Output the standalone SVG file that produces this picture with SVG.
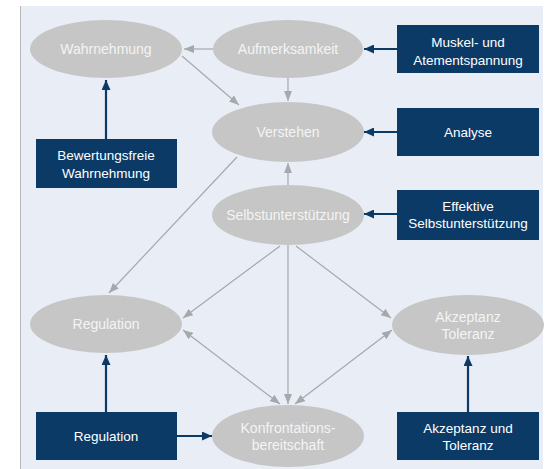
<svg xmlns="http://www.w3.org/2000/svg" width="554" height="469" viewBox="0 0 554 469">
<defs>
<style>
.ell{fill:#c6c6c6}
.et{fill:#f4f4f4;font-family:"Liberation Sans",Arial,sans-serif;font-size:14px;text-anchor:middle;dominant-baseline:central}
.box{fill:#0c3a67}
.bt{fill:#ffffff;font-family:"Liberation Sans",Arial,sans-serif;font-size:13.5px;text-anchor:middle;dominant-baseline:central}
.g{stroke:#a6a8ab;stroke-width:1.2;fill:none;marker-end:url(#ag)}
.gg{stroke:#a6a8ab;stroke-width:1.2;fill:none;marker-end:url(#ag);marker-start:url(#ag)}
.n{stroke:#0c3a67;stroke-width:2.2;fill:none;marker-end:url(#an)}
</style>
<marker id="ag" markerUnits="userSpaceOnUse" markerWidth="10" markerHeight="8" refX="10" refY="4" orient="auto-start-reverse" viewBox="0 0 10 8">
<path d="M0,0 L10,4 L0,8 z" fill="#a6a8ab"/>
</marker>
<marker id="an" markerUnits="userSpaceOnUse" markerWidth="10" markerHeight="9" refX="10" refY="4.5" orient="auto" viewBox="0 0 10 9">
<path d="M0,0 L10,4.5 L0,9 z" fill="#0c3a67"/>
</marker>
</defs>
<rect x="0" y="0" width="554" height="469" fill="#ffffff"/>
<rect x="21" y="6" width="522" height="463" fill="#e9eef6"/>
<line x1="20.5" y1="6" x2="20.5" y2="469" stroke="#b5b7ba" stroke-width="1"/>

<g id="connectors">
<line class="g" x1="213" y1="49" x2="184" y2="49"/>
<line class="g" x1="182" y1="56" x2="239" y2="105"/>
<line class="g" x1="288" y1="78" x2="288" y2="101"/>
<line class="g" x1="288" y1="185" x2="288" y2="163"/>
<line class="g" x1="237" y1="157" x2="109" y2="293"/>
<line class="g" x1="280" y1="246" x2="183" y2="318"/>
<line class="g" x1="288" y1="245" x2="288" y2="404"/>
<line class="g" x1="296" y1="246" x2="391" y2="318"/>
<line class="gg" x1="183" y1="330" x2="280" y2="404"/>
<line class="gg" x1="392" y1="330" x2="295" y2="404"/>
<line class="n" x1="397" y1="49" x2="364" y2="49"/>
<line class="n" x1="397" y1="132" x2="364" y2="132"/>
<line class="n" x1="397" y1="214" x2="364" y2="214"/>
<line class="n" x1="106" y1="139" x2="106" y2="80"/>
<line class="n" x1="106" y1="412" x2="106" y2="355"/>
<line class="n" x1="177" y1="436" x2="212" y2="436"/>
<line class="n" x1="468" y1="412" x2="468" y2="356"/>
</g>

<g id="wahrnehmung"><ellipse class="ell" cx="106" cy="49" rx="76" ry="29"/><text class="et" x="106" y="49">Wahrnehmung</text></g>
<g id="aufmerksamkeit"><ellipse class="ell" cx="288" cy="49" rx="75" ry="29"/><text class="et" x="288" y="49">Aufmerksamkeit</text></g>
<g id="verstehen"><ellipse class="ell" cx="288" cy="132" rx="76" ry="30"/><text class="et" x="288" y="132">Verstehen</text></g>
<g id="selbstunterstuetzung"><ellipse class="ell" cx="288" cy="215" rx="76" ry="30"/><text class="et" x="288" y="215">Selbstunterstützung</text></g>
<g id="regulation-e"><ellipse class="ell" cx="106" cy="324" rx="76" ry="29"/><text class="et" x="106" y="324">Regulation</text></g>
<g id="akzeptanz-e"><ellipse class="ell" cx="468" cy="325" rx="76" ry="30"/><text class="et" x="468" y="317">Akzeptanz</text><text class="et" x="468" y="334">Toleranz</text></g>
<g id="konfrontation"><ellipse class="ell" cx="288" cy="436" rx="76" ry="31"/><text class="et" x="288" y="428">Konfrontations-</text><text class="et" x="288" y="445">bereitschaft</text></g>

<g id="muskel"><rect class="box" x="397" y="25" width="142" height="48"/><text class="bt" x="468" y="42">Muskel- und</text><text class="bt" x="468" y="60">Atementspannung</text></g>
<g id="analyse"><rect class="box" x="397" y="108" width="142" height="48"/><text class="bt" x="468" y="132">Analyse</text></g>
<g id="effektive"><rect class="box" x="397" y="190" width="142" height="50"/><text class="bt" x="468" y="206">Effektive</text><text class="bt" x="468" y="223">Selbstunterstützung</text></g>
<g id="bewertungsfreie"><rect class="box" x="36" y="139" width="141" height="49"/><text class="bt" x="106" y="155">Bewertungsfreie</text><text class="bt" x="106" y="173">Wahrnehmung</text></g>
<g id="regulation-b"><rect class="box" x="36" y="412" width="141" height="48"/><text class="bt" x="106" y="436">Regulation</text></g>
<g id="akzeptanz-b"><rect class="box" x="397" y="412" width="142" height="48"/><text class="bt" x="468" y="428">Akzeptanz und</text><text class="bt" x="468" y="445">Toleranz</text></g>
</svg>
